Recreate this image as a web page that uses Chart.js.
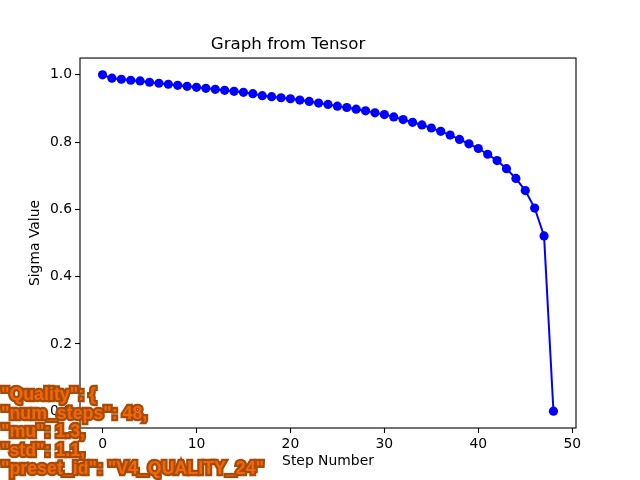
<!DOCTYPE html>
<html>
<head>
<meta charset="utf-8">
<script src="https://cdn.jsdelivr.net/npm/chart.js@4/dist/chart.umd.min.js"></script>
<style>
  html, body { margin: 0; padding: 0; background: #fff; }
  #wrap { position: relative; width: 640px; height: 480px; overflow: hidden; }
  #note {
    position: absolute; left: 1px; top: 385px; margin: 0;
    font: bold 17.8px "Liberation Sans", Arial, sans-serif;
    line-height: 18.6px; white-space: pre;
    color: #f26808;
    -webkit-text-stroke: 4.5px #a84a08;
    paint-order: stroke fill;
  }
</style>
</head>
<body>
<div id="wrap">
  <canvas id="sigmaChart" width="640" height="480"></canvas>
  <pre id="note"></pre>
</div>
<script>
const steps = [0, 1, 2, 3, 4, 5, 6, 7, 8, 9, 10, 11, 12, 13, 14, 15, 16, 17, 18, 19, 20, 21, 22, 23, 24,
  25, 26, 27, 28, 29, 30, 31, 32, 33, 34, 35, 36, 37, 38, 39, 40, 41, 42, 43, 44, 45, 46, 47, 48];
const sigmas = [1.0, 0.99, 0.987, 0.984, 0.982, 0.978, 0.975, 0.972, 0.969, 0.966,
  0.963, 0.96, 0.957, 0.954, 0.951, 0.948, 0.944, 0.938, 0.935, 0.932,
  0.929, 0.925, 0.921, 0.916, 0.912, 0.907, 0.903, 0.898, 0.893, 0.887,
  0.882, 0.875, 0.867, 0.859, 0.851, 0.842, 0.832, 0.821, 0.808, 0.795,
  0.781, 0.764, 0.745, 0.721, 0.692, 0.656, 0.604, 0.521, 0.0];
const xTicks = [0, 10, 20, 30, 40, 50];
const yTicks = [0.0, 0.2, 0.4, 0.6, 0.8, 1.0];
const noteLines = [
  '"Quality": {',
  '"num_steps": 48,',
  '"mu": 1.3,',
  '"std": 1.1,',
  '"preset_id": "V4_QUALITY_24"'
];

document.getElementById("note").textContent = noteLines.join("\n");

const FONT = "'DejaVu Sans', sans-serif";

// box around the plot area, like matplotlib spines
const frame = {
  id: "frame",
  afterDraw(chart) {
    const { ctx, chartArea: a } = chart;
    ctx.save();
    ctx.strokeStyle = "#000";
    ctx.lineWidth = 1.1;
    ctx.strokeRect(a.left, a.top, a.right - a.left, a.bottom - a.top);
    ctx.restore();
  }
};

function keepTicks(list) {
  return scale => { scale.ticks = list.map(v => ({ value: v })); };
}

new Chart(document.getElementById("sigmaChart"), {
  type: "line",
  data: {
    datasets: [{
      data: steps.map((s, i) => ({ x: s, y: sigmas[i] })),
      borderColor: "#0000ff",
      backgroundColor: "#0000ff",
      borderWidth: 2,
      pointRadius: 4.6,
      pointBorderWidth: 0,
      tension: 0
    }]
  },
  options: {
    responsive: false,
    animation: false,
    layout: { padding: { left: 0, right: 64, top: 0, bottom: 0 } },
    plugins: {
      legend: { display: false },
      tooltip: { enabled: false },
      title: {
        display: true,
        text: "Graph from Tensor",
        color: "#000",
        font: { family: FONT, size: 16.7, weight: "normal", lineHeight: 1.2 },
        padding: { top: 35, bottom: 3 }
      }
    },
    scales: {
      x: {
        type: "linear",
        min: -2.4,
        max: 50.4,
        afterFit: s => { s.height = 52; },
        afterBuildTicks: keepTicks(xTicks),
        border: { display: false },
        grid: { drawOnChartArea: false, drawTicks: true, tickLength: 5, tickColor: "#000", tickWidth: 1.1 },
        ticks: { color: "#000", padding: 3, maxRotation: 0, font: { family: FONT, size: 13.9 } },
        title: {
          display: true, text: "Step Number", color: "#000",
          font: { family: FONT, size: 13.9, lineHeight: 1.2 },
          padding: { top: 0, bottom: 10 }
        }
      },
      y: {
        type: "linear",
        min: -0.05,
        max: 1.05,
        afterFit: s => { s.width = 80; },
        afterBuildTicks: keepTicks(yTicks),
        border: { display: false },
        grid: { drawOnChartArea: false, drawTicks: true, tickLength: 5, tickColor: "#000", tickWidth: 1.1 },
        ticks: {
          color: "#000", padding: 3,
          font: { family: FONT, size: 13.9 },
          callback: v => Number(v).toFixed(1)
        },
        title: {
          display: true, text: "Sigma Value", color: "#000",
          font: { family: FONT, size: 13.9, lineHeight: 1.2 },
          padding: { top: 27, bottom: 27 }
        }
      }
    }
  },
  plugins: [frame]
});
</script>
</body>
</html>
